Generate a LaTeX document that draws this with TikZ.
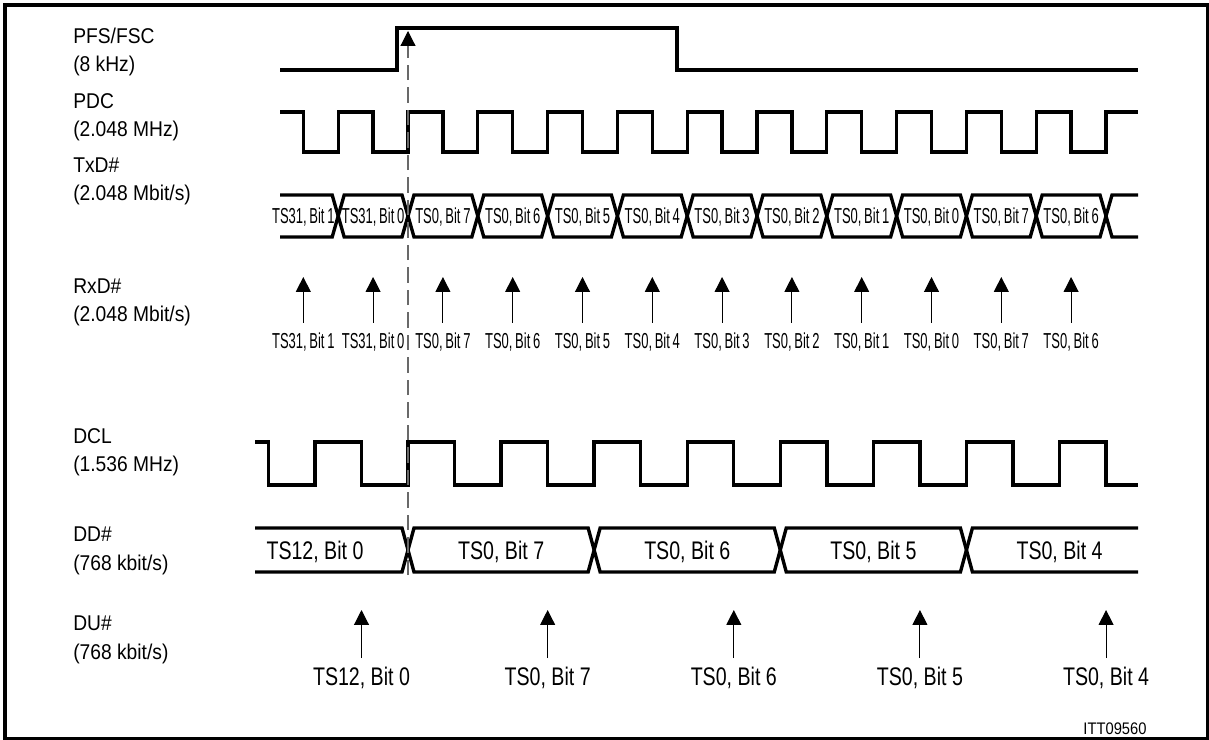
\documentclass[tikz,border=0pt]{standalone}
\usepackage{fontspec}
\setmainfont{Liberation Sans}
\newfontfamily\sigfont[FakeStretch=0.9]{Liberation Sans}
\newfontfamily\slotfont[FakeStretch=0.6,WordSpace=0.75]{Liberation Sans}
\newfontfamily\dslotfont[FakeStretch=0.77]{Liberation Sans}
\newfontfamily\refnofont[FakeStretch=0.88]{Liberation Sans}
\usepackage{tikz}
\usetikzlibrary{arrows.meta}
\definecolor{markgray}{RGB}{105,105,105}

\begin{document}
\begin{tikzpicture}[x=0.025cm, y=-0.025cm,
  wave/.style={line width=2.4pt},
  sig/.style={anchor=base west, align=left, inner sep=0pt, font=\sigfont\fontsize{15.2}{20.6}\selectfont},
  slot/.style={anchor=base, inner sep=0pt, font=\slotfont\fontsize{15.4}{18}\selectfont},
  dslot/.style={anchor=base, inner sep=0pt, font=\dslotfont\fontsize{18.1}{22}\selectfont},
  ptr/.style={line width=0.8pt, -{Triangle[length=10.5pt, width=10.5pt]}}
]
\useasboundingbox (0,0) rectangle (1209,740);
\draw[line width=2.2pt] (5,5) rectangle (1207.5,738.5);

% signal names (anchored on the second line)
\node[sig] (pfs) at (73,72) {PFS/FSC\\(8 kHz)};
\node[sig] (pdc) at (73,137) {PDC\\(2.048 MHz)};
\node[sig] (txd) at (73,201) {TxD\#\\(2.048 Mbit/s)};
\node[sig] (rxd) at (73,322) {RxD\#\\(2.048 Mbit/s)};
\node[sig] (dcl) at (73,472) {DCL\\(1.536 MHz)};
\node[sig] (dd) at (73,570) {DD\#\\(768 kbit/s)};
\node[sig] (du) at (73,659) {DU\#\\(768 kbit/s)};

% PFS/FSC and PDC
\draw[wave] (280,70) -- (397,70) -- (397,28) -- (677,28) -- (677,70) -- (1138,70);
\draw[wave] (280,112) \foreach \k in {-1,...,10} {
  -- ({408+(\k-0.5)*69.8},112) -- ({408+(\k-0.5)*69.8},152)
  -- ({408+\k*69.8},152) -- ({408+\k*69.8},112)} -- (1138,112);

% TxD# bus
\draw[wave] (280,195) \foreach \k in {0,...,11} {
  -- ({338.2+\k*69.8-6},{195+42*mod(\k,2)}) -- ({338.2+\k*69.8+6},{237-42*mod(\k,2)})} -- (1138,195);
\draw[wave] (280,237) \foreach \k in {0,...,11} {
  -- ({338.2+\k*69.8-6},{237-42*mod(\k,2)}) -- ({338.2+\k*69.8+6},{195+42*mod(\k,2)})} -- (1138,237);

% TxD# / RxD# slots
\foreach \txt [count=\k from 0] in {{TS31, Bit 1},{TS31, Bit 0},{TS0, Bit 7},{TS0, Bit 6},{TS0, Bit 5},{TS0, Bit 4},{TS0, Bit 3},{TS0, Bit 2},{TS0, Bit 1},{TS0, Bit 0},{TS0, Bit 7},{TS0, Bit 6}} {
  \node[slot] (tx\k) at ({303.3+\k*69.8},223.5) {\txt};
  \node[slot] (rx\k) at ({303.3+\k*69.8},349) {\txt};
  \coordinate (rxb\k) at ({303.3+\k*69.8},323);
  \coordinate (rxt\k) at ({303.3+\k*69.8},277);
  \draw[ptr] (rxb\k) -- (rxt\k);
}

% DCL
\draw[wave] (255,442) \foreach \k in {-1,...,7} {
  -- ({408+(\k-0.5)*93.07},442) -- ({408+(\k-0.5)*93.07},485)
  -- ({408+\k*93.07},485) -- ({408+\k*93.07},442)} -- (1106,442) -- (1106,485) -- (1138,485);

% DD# bus
\draw[wave] (255,528) \foreach \k in {0,...,3} {
  -- ({408+\k*186.14-6},{528+44*mod(\k,2)}) -- ({408+\k*186.14+6},{572-44*mod(\k,2)})} -- (1138,528);
\draw[wave] (255,572) \foreach \k in {0,...,3} {
  -- ({408+\k*186.14-6},{572-44*mod(\k,2)}) -- ({408+\k*186.14+6},{528+44*mod(\k,2)})} -- (1138,572);

% DD# / DU# slots
\foreach \txt [count=\j from 0] in {{TS12, Bit 0},{TS0, Bit 7},{TS0, Bit 6},{TS0, Bit 5},{TS0, Bit 4}} {
  \node[dslot] (dd\j) at ({315+\j*186.14},559) {\txt};
  \node[dslot] (du\j) at ({361.5+\j*186.14},685) {\txt};
  \coordinate (dub\j) at ({361.5+\j*186.14},658);
  \coordinate (dut\j) at ({361.5+\j*186.14},610);
  \draw[ptr] (dub\j) -- (dut\j);
}

% frame start marker
\coordinate (mkb) at (408,575);
\coordinate (mkt) at (408,31);
\draw[markgray, line width=0.8pt, dash pattern=on 11pt off 5pt,
  -{Triangle[length=10.5pt, width=10.5pt, color=black]}] (mkb) -- (mkt);

\node[anchor=base, inner sep=0pt, font=\refnofont\fontsize{11.9}{14}\selectfont] (itt) at (1115,734) {ITT09560};
\end{tikzpicture}
\end{document}
